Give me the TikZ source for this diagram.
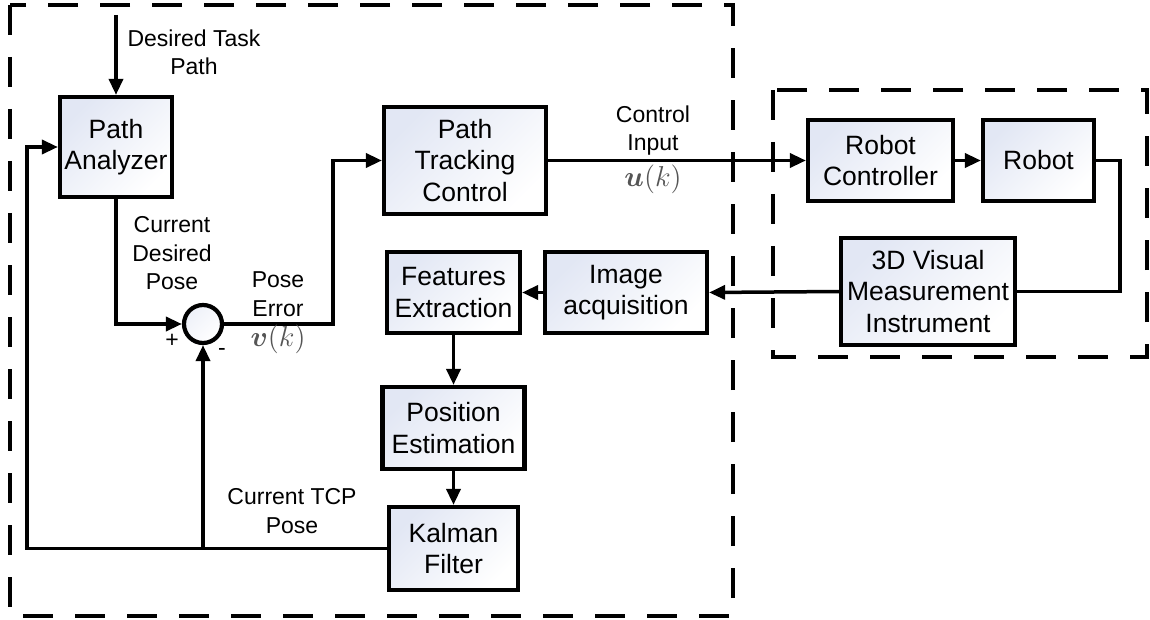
\documentclass[tikz,border=0pt]{standalone}
\usepackage{fontspec}
\setmainfont{Liberation Sans}
\usepackage{bm}
\usetikzlibrary{arrows.meta}

\definecolor{boxtint}{RGB}{226,231,244}
\definecolor{mathgray}{RGB}{85,85,85}

\tikzset{
  block/.style={draw, line width=2.1pt, inner sep=0pt, align=center,
    top color=boxtint, middle color=white, bottom color=white, shading angle=45,
    font=\fontsize{13.25}{15.75}\selectfont},
  sumnode/.style={circle, draw, line width=2.1pt, minimum size=19pt, inner sep=0pt,
    top color=boxtint!60, bottom color=white, shading angle=45},
  lbl/.style={inner sep=0pt, align=center, font=\fontsize{11.5}{14.25}\selectfont},
  mlbl/.style={inner sep=0pt, text=mathgray, font=\fontsize{14.5}{16}\selectfont},
  wire/.style={line width=1.75pt},
  arr/.style={wire, -{Triangle[length=8pt,width=7pt]}},
  group/.style={line width=2.4pt, dash pattern=on 15pt off 11pt}
}

\begin{document}
\begin{tikzpicture}[x=0.5pt,y=-0.5pt]
\useasboundingbox (0,0) rectangle (1150,620);

% enclosing groups
\draw[group] (10,5) rectangle (733,616);
\draw[group] (773,90) rectangle (1147,357);

% blocks
\node[block, minimum width=56pt,   minimum height=50pt]   (pa)  at (116,147)     {Path\\Analyzer};
\node[block, minimum width=81pt,   minimum height=53.5pt] (ptc) at (465,160.5)   {Path\\Tracking\\Control};
\node[block, minimum width=66.5pt, minimum height=40.5pt] (fe)  at (453.5,292.5) {Features\\Extraction};
\node[block, minimum width=81pt,   minimum height=40.5pt] (ia)  at (626,292.5)   {Image\\acquisition};
\node[block, minimum width=71pt,   minimum height=41pt]   (pe)  at (453.5,428)   {Position\\Estimation};
\node[block, minimum width=64.5pt, minimum height=41.5pt] (kf)  at (453.5,548.5) {Kalman\\Filter};
\node[block, minimum width=72.5pt, minimum height=40.5pt] (rc)  at (880.5,160.5) {Robot\\Controller};
\node[block, minimum width=55.5pt, minimum height=40.5pt] (rb)  at (1038.5,160.5) {Robot};
\node[block, minimum width=87pt,   minimum height=53.5pt] (vm)  at (928,291.5)   {3D Visual\\Measurement\\Instrument};

% summing junction
\node[sumnode] (sum) at (203,324) {};

% free ends and bends
\coordinate (src)  at (116,15);
\coordinate (fbl)  at (27,548.5);
\coordinate (ebend) at (333,324);
\coordinate (rbend) at (1120,160.5);

% connectors
\draw[arr] (src) -- (pa.north);
\draw[arr] (pa.south) |- (sum.west);
\draw[arr] (sum.east) -- (ebend) |- (ptc.west);
\draw[arr] (ptc.east) -- (rc.west);
\draw[arr] (rc.east) -- (rb.west);
\draw[wire] (rb.east) -- (rbend) |- (vm.east);
\draw[arr] (vm.west) -- (ia.east);
\draw[arr] (ia.west) -- (fe.east);
\draw[arr] (fe.south) -- (pe.north);
\draw[arr] (pe.south) -- (kf.north);
\draw[arr] (kf.west) -- (fbl) |- (pa.west);
\draw[arr] (sum |- kf.west) -- (sum.south);

% signal labels
\node[lbl] (ldtp) at (194,52.5)  {Desired Task\\Path};
\node[lbl] (lcdp) at (172,253.5) {Current\\Desired\\Pose};
\node[lbl] (lpe)  at (278,294)   {Pose\\Error};
\node[mlbl] (lv)  at (278,339)   {$\bm{v}(k)$};
\node[lbl] (lci)  at (653,130.5) {Control\\Input};
\node[mlbl] (lu)  at (653,179)   {$\bm{u}(k)$};
\node[lbl] (ltcp) at (292,511)   {Current TCP\\Pose};
\node[lbl] (lplus)  at (172,341) {+};
\node[lbl] (lminus) at (222,352) {-};
\end{tikzpicture}
\end{document}
